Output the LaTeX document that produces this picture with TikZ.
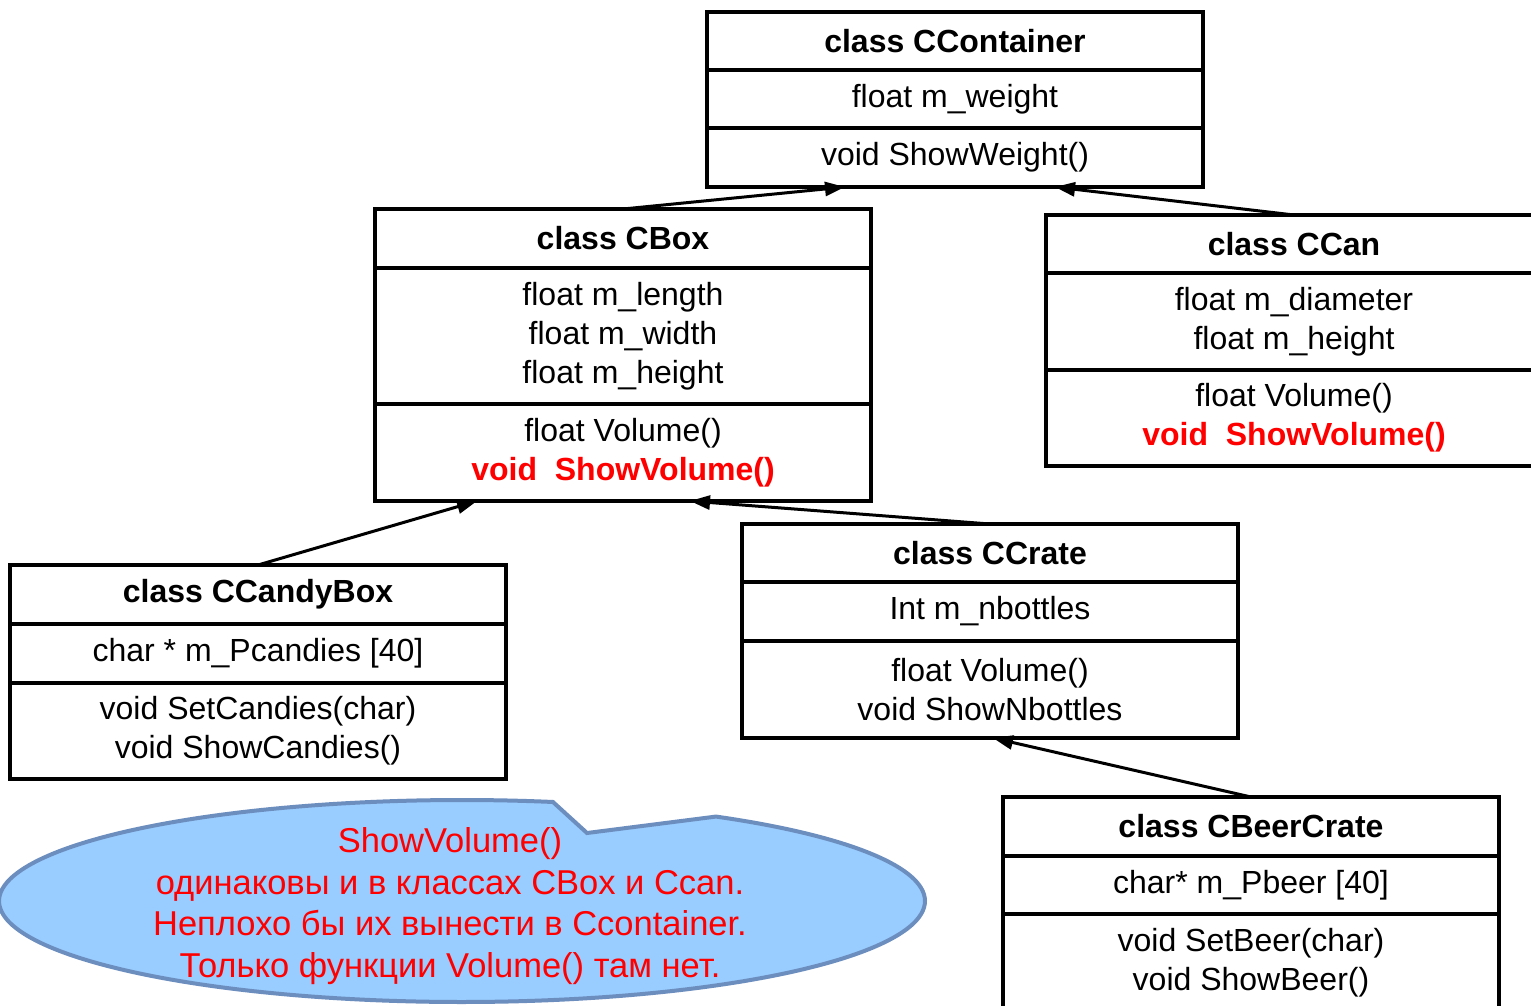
\documentclass[tikz,border=0pt]{standalone}
\usepackage{fontspec}
\setmainfont{Liberation Sans}
\usetikzlibrary{arrows.meta,calc}
\definecolor{notefill}{HTML}{99CCFF}
\definecolor{noteedge}{HTML}{6C8EBF}
\definecolor{hot}{HTML}{FF0000}
\tikzset{
  sect/.style={draw, line width=3.5pt, minimum width=496pt, anchor=north west,
    inner sep=0pt, outer sep=0pt, align=center, font=\fontsize{32}{39}\selectfont},
  ttl/.style={sect, font=\bfseries\fontsize{32}{39}\selectfont},
  inh/.style={line width=3pt, -{Triangle[length=20pt,width=14pt]}},
  notetext/.style={align=center, text=hot, inner sep=0pt, font=\fontsize{34.5}{41.5}\selectfont},
}
\newcommand{\hotline}{{\color{hot}\bfseries void\ \ ShowVolume()}}
\begin{document}
\begin{tikzpicture}[x=1pt,y=-1pt]
\clip (0,0) rectangle (1531,1006);
\fill[white] (0,0) rectangle (1531,1006);

% CContainer
\node[ttl,  minimum height=58pt] (cc-t) at (707,12)  {class CContainer};
\node[sect, minimum height=58pt] (cc-a) at (707,70)  {float m\_weight};
\node[sect, minimum height=59pt] (cc-m) at (707,128) {void ShowWeight()};

% CBox
\node[ttl,  minimum height=59pt]  (cb-t) at (375,209) {class CBox};
\node[sect, minimum height=136pt] (cb-a) at (375,268) {float m\_length\\float m\_width\\float m\_height};
\node[sect, minimum height=97pt]  (cb-m) at (375,404) {float Volume()\\\hotline};

% CCan
\node[ttl,  minimum height=58pt] (cn-t) at (1046,215) {class CCan};
\node[sect, minimum height=97pt] (cn-a) at (1046,273) {float m\_diameter\\float m\_height};
\node[sect, minimum height=96pt] (cn-m) at (1046,370) {float Volume()\\\hotline};

% CCandyBox
\node[ttl,  minimum height=59pt] (cy-t) at (10,565) {class CCandyBox};
\node[sect, minimum height=59pt] (cy-a) at (10,624) {char * m\_Pcandies [40]};
\node[sect, minimum height=96pt] (cy-m) at (10,683) {void SetCandies(char)\\void ShowCandies()};

% CCrate
\node[ttl,  minimum height=58pt] (cr-t) at (742,524) {class CCrate};
\node[sect, minimum height=59pt] (cr-a) at (742,582) {Int m\_nbottles};
\node[sect, minimum height=97pt] (cr-m) at (742,641) {float Volume()\\void ShowNbottles};

% CBeerCrate
\node[ttl,  minimum height=59pt] (bc-t) at (1003,797) {class CBeerCrate};
\node[sect, minimum height=58pt] (bc-a) at (1003,856) {char* m\_Pbeer [40]};
\node[sect, minimum height=97pt] (bc-m) at (1003,914) {void SetBeer(char)\\void ShowBeer()};

% inheritance arrows
\draw[inh] (cb-t.north) -- ([xshift=138pt]cc-m.south west);
\draw[inh] (cn-t.north) -- ([xshift=348pt]cc-m.south west);
\draw[inh] (cy-t.north) -- ([xshift=102pt]cb-m.south west);
\draw[inh] (cr-t.north) -- ([xshift=315pt]cb-m.south west);
\draw[inh] (bc-t.north) -- ([xshift=251pt]cr-m.south west);

% callout: ellipse with a notch cut into its top edge
\filldraw[fill=notefill, draw=noteedge, line width=4pt, line join=miter]
  (587,833) -- plot[domain=78.67:416.73, samples=180, smooth]
    ({462+463*cos(\x)},{901-101*sin(\x)}) -- cycle;
\node[notetext] (note) at (450,906)
  {ShowVolume()\\одинаковы и в классах CBox и Ccan.\\Неплохо бы их вынести в Ccontainer.\\Только функции Volume() там нет.};
\end{tikzpicture}
\end{document}
